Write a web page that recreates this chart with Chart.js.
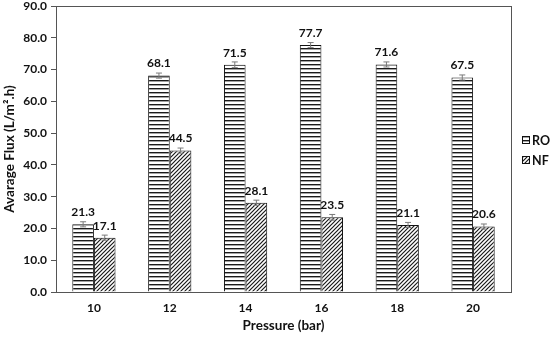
<!DOCTYPE html>
<html>
<head>
<meta charset="utf-8">
<style>
  html, body { margin: 0; padding: 0; background: #fff; }
  #wrap { width: 550px; height: 338px; }
</style>
<script src="https://cdn.jsdelivr.net/npm/chart.js@4.4.1/dist/chart.umd.min.js"></script>
</head>
<body>
<div id="wrap"><canvas id="flux-chart" width="550" height="338"></canvas></div>
<script>
const pressures = ['10', '12', '14', '16', '18', '20'];
const roFlux = [21.3, 68.1, 71.5, 77.7, 71.6, 67.5];
const nfFlux = [17.1, 44.5, 28.1, 23.5, 21.1, 20.6];
const roErr = [0.8, 0.8, 0.9, 0.8, 0.8, 0.8];
const nfErr = [0.8, 0.8, 0.8, 0.9, 0.8, 0.8];
const yTicks = [0, 10, 20, 30, 40, 50, 60, 70, 80, 90];

const FONT = 'Lato, "Liberation Sans", sans-serif';

// hatch fills like the excel patterns
function makePattern(kind) {
    const c = document.createElement('canvas');
    c.width = 4;
    c.height = 4;
    const g = c.getContext('2d');
    g.fillStyle = '#fff';
    g.fillRect(0, 0, 4, 4);
    g.strokeStyle = '#1a1a1a';
    if (kind === 'h') {
        g.fillStyle = '#1a1a1a';
        g.fillRect(0, 0, 4, 1.4);
    } else {
        g.lineWidth = 1.2;
        g.beginPath();
        g.moveTo(-1, 5); g.lineTo(5, -1);
        g.moveTo(-3, 3); g.lineTo(3, -3);
        g.moveTo(1, 7); g.lineTo(7, 1);
        g.stroke();
    }
    return g.createPattern(c, 'repeat');
}

const errorBars = {
    id: 'errorBars',
    afterDatasetsDraw(chart) {
        const ctx = chart.ctx;
        const y = chart.scales.y;
        const errs = [roErr, nfErr];
        ctx.save();
        ctx.strokeStyle = '#7a7a7a';
        ctx.lineWidth = 1;
        chart.data.datasets.forEach((ds, i) => {
            chart.getDatasetMeta(i).data.forEach((bar, j) => {
                const v = ds.data[j];
                const top = y.getPixelForValue(v + errs[i][j]);
                const bot = y.getPixelForValue(v - errs[i][j]);
                const x = bar.x;
                ctx.beginPath();
                ctx.moveTo(x, top); ctx.lineTo(x, bot);
                ctx.moveTo(x - 3, top); ctx.lineTo(x + 3, top);
                ctx.moveTo(x - 3, bot); ctx.lineTo(x + 3, bot);
                ctx.stroke();
            });
        });
        // value labels
        ctx.fillStyle = '#111';
        ctx.font = 'bold 12px ' + FONT;
        ctx.textAlign = 'center';
        ctx.textBaseline = 'middle';
        chart.data.datasets.forEach((ds, i) => {
            chart.getDatasetMeta(i).data.forEach((bar, j) => {
                ctx.fillText(ds.data[j].toFixed(1), bar.x, bar.y - 12);
            });
        });
        ctx.restore();
    }
};

// plot box + legend at the right side
const plotFrame = {
    id: 'plotFrame',
    afterDraw(chart) {
        const a = chart.chartArea;
        const ctx = chart.ctx;
        ctx.save();
        ctx.strokeStyle = '#555';
        ctx.lineWidth = 1;
        ctx.strokeRect(a.left + 0.5, a.top + 0.5, a.right - a.left, a.bottom - a.top);

        ctx.font = 'bold 12.5px ' + FONT;
        ctx.textAlign = 'left';
        ctx.textBaseline = 'middle';
        chart.data.datasets.forEach((ds, i) => {
            const cy = 140 + i * 20;
            ctx.fillStyle = ds.backgroundColor;
            ctx.fillRect(522, cy - 4, 8, 8);
            ctx.strokeStyle = '#111';
            ctx.strokeRect(522.5, cy - 3.5, 7, 7);
            ctx.fillStyle = '#111';
            ctx.fillText(ds.label, 532, cy + 0.5);
        });
        ctx.restore();
    }
};

const ctx = document.getElementById('flux-chart').getContext('2d');
new Chart(ctx, {
    type: 'bar',
    data: {
        labels: pressures,
        datasets: [{
            label: 'RO',
            data: roFlux,
            backgroundColor: makePattern('h'),
            borderColor: '#111',
            borderWidth: 1
        }, {
            label: 'NF',
            data: nfFlux,
            backgroundColor: makePattern('d'),
            borderColor: '#111',
            borderWidth: 1
        }]
    },
    options: {
        responsive: false,
        animation: false,
        layout: { padding: { left: 0, right: 39, top: 6, bottom: 0 } },
        datasets: {
            bar: { categoryPercentage: 0.57, barPercentage: 1 }
        },
        plugins: {
            tooltip: { enabled: false },
            legend: { display: false }
        },
        scales: {
            x: {
                afterFit: s => { s.height = 46; },
                grid: { display: false, drawTicks: false },
                border: { color: '#555' },
                ticks: {
                    color: '#111',
                    padding: 9,
                    font: { family: FONT, size: 12, weight: 'bold' }
                },
                title: {
                    display: true,
                    text: 'Pressure (bar)',
                    color: '#111',
                    padding: { top: 2, bottom: 4 },
                    font: { family: FONT, size: 13.5, weight: 'bold' }
                }
            },
            y: {
                min: 0,
                max: 90,
                afterFit: s => {
                    s.width = 56;
                    s.paddingTop = 0;
                    s.paddingBottom = 0;
                },
                afterBuildTicks: s => { s.ticks = yTicks.map(v => ({ value: v })); },
                grid: { drawOnChartArea: false, drawTicks: true, tickLength: 5, color: '#555' },
                border: { color: '#555' },
                ticks: {
                    color: '#111',
                    padding: 4,
                    font: { family: FONT, size: 12, weight: 'bold' },
                    callback: v => v.toFixed(1)
                },
                title: {
                    display: true,
                    text: 'Avarage Flux (L/m\u00b2.h)',
                    color: '#111',
                    padding: { top: 2, bottom: 2 },
                    font: { family: FONT, size: 13.5, weight: 'bold' }
                }
            }
        }
    },
    plugins: [errorBars, plotFrame]
});
</script>
</body>
</html>
